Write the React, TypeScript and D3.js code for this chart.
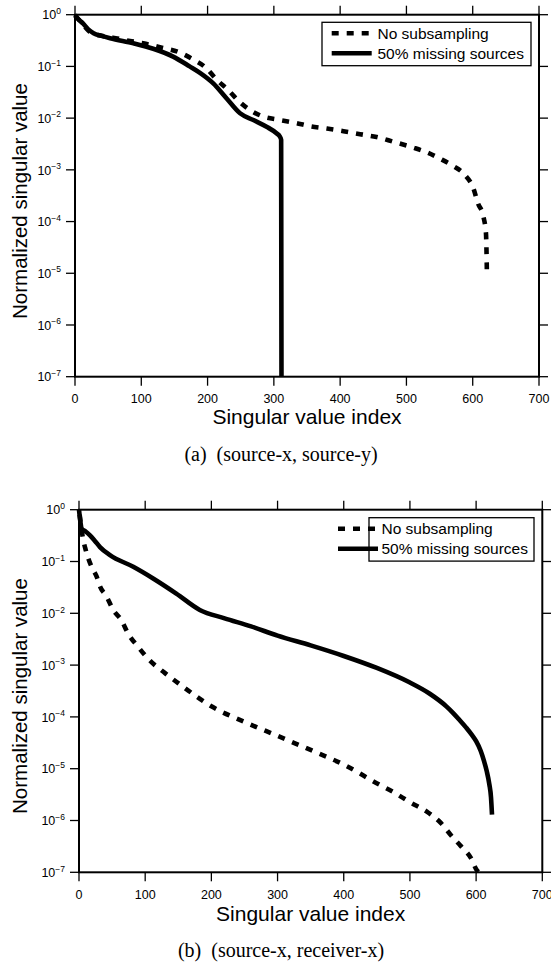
import React from 'react';
import * as d3 from 'd3';

const xTicks = [0, 100, 200, 300, 400, 500, 600, 700];
const yExps = [0, -1, -2, -3, -4, -5, -6, -7];
const seriesNames = ['No subsampling', '50% missing sources'];
const xAxisLabel = 'Singular value index';
const yAxisLabel = 'Normalized singular value';
const captions = ['(a)  (source-x, source-y)', '(b)  (source-x, receiver-x)'];

// Panel (a): source-x, source-y
const aNoSubIdx = [0, 8, 15, 22, 30, 40, 57, 83, 103, 131, 156, 178, 196, 214, 231, 246, 264, 284, 309, 332, 354, 380, 405, 430, 455, 480, 510, 530, 550, 570, 588, 601, 608, 616, 620, 621.5];
const aNoSubVal = [0.95, 0.75, 0.58, 0.47, 0.42, 0.39, 0.36, 0.31, 0.28, 0.23, 0.19, 0.137, 0.098, 0.055, 0.035, 0.022, 0.0144, 0.0107, 0.0092, 0.0081, 0.007, 0.0063, 0.0056, 0.0049, 0.0043, 0.0035, 0.0027, 0.0022, 0.00166, 0.0012, 0.0008, 0.00044, 0.000224, 0.000126, 0.000059, 0.0000085];
const aMissIdx = [0, 5, 12, 20, 28, 40, 53, 88, 118, 148, 173, 188.5, 208.6, 228.8, 249, 269, 289, 304, 309, 311, 311.5];
const aMissVal = [1.0, 0.82, 0.68, 0.52, 0.44, 0.39, 0.35, 0.28, 0.22, 0.155, 0.1, 0.075, 0.047, 0.024, 0.0124, 0.0092, 0.0068, 0.0051, 0.0044, 0.0038, 1e-7];

// Panel (b): source-x, receiver-x
const bNoSubIdx = [1, 4, 6.5, 10, 14, 19, 26.7, 31.7, 41.8, 51.7, 64, 74, 90, 105, 130, 160, 200, 250, 300, 350, 400, 454, 474, 499, 529, 547, 562, 577, 592, 601, 604];
const bNoSubVal = [0.8, 0.4, 0.26, 0.17, 0.115, 0.079, 0.051, 0.033, 0.021, 0.0116, 0.0074, 0.0041, 0.0022, 0.0013, 0.0007, 0.00036, 0.00016, 0.00008, 0.000043, 0.000023, 0.000012, 4.9e-6, 3.6e-6, 2.3e-6, 1.38e-6, 8.9e-7, 5.2e-7, 3.2e-7, 1.9e-7, 1.1e-7, 1e-7];
const bMissIdx = [0, 2, 4, 10, 16.6, 24, 31.7, 46.8, 82, 112, 147, 182.5, 220, 260, 300, 350, 400, 450, 500, 530, 555, 565, 575, 585, 593, 600, 607, 612, 616, 620, 622.5, 624];
const bMissVal = [1.0, 0.6, 0.43, 0.38, 0.32, 0.25, 0.19, 0.133, 0.079, 0.047, 0.024, 0.0116, 0.008, 0.0056, 0.0037, 0.0024, 0.0015, 0.00088, 0.00046, 0.00028, 0.00016, 0.00012, 0.000087, 0.000062, 0.000046, 0.000034, 0.000022, 0.000014, 9e-6, 5e-6, 2.8e-6, 1.3e-6];

const SANS = '"Liberation Sans", Arial, Helvetica, sans-serif';
const SERIF = '"Liberation Serif", "Times New Roman", Times, serif';

type Layout = {
  L: number; R: number; T: number; B: number;
  legX: number; legY: number; legW: number; legH: number;
  lineX1: number; lineX2: number; textX: number;
  yLabelCY: number; xLabelY: number; capY: number;
};

function zip(a: number[], b: number[]): [number, number][] {
  return a.map((v, i) => [v, b[i]]);
}

function Panel({ lay, dashed, solid, caption }: { lay: Layout; dashed: [number, number][]; solid: [number, number][]; caption: string }) {
  const x = d3.scaleLinear().domain([0, 700]).range([lay.L, lay.R]);
  const y = d3.scaleLog().domain([1e-7, 1]).range([lay.B, lay.T]);
  const line = d3.line<[number, number]>().x(d => x(d[0])).y(d => y(d[1])).curve(d3.curveMonotoneX);
  const tl = 9;
  const row1 = lay.legY + 11;
  const row2 = lay.legY + 31;
  return (
    <g>
      <path d={line(dashed) || ''} fill="none" stroke="#000" strokeWidth={4.6} strokeDasharray="7,8" />
      <path d={line(solid) || ''} fill="none" stroke="#000" strokeWidth={4.6} strokeLinejoin="round" />
      <rect x={lay.L} y={lay.T} width={lay.R - lay.L} height={lay.B - lay.T} fill="none" stroke="#000" strokeWidth={2} />
      {xTicks.map(t => (
        <g key={'x' + t}>
          <line x1={x(t)} x2={x(t)} y1={lay.T} y2={lay.T - tl} stroke="#000" strokeWidth={1.3} />
          <line x1={x(t)} x2={x(t)} y1={lay.B} y2={lay.B + tl} stroke="#000" strokeWidth={1.3} />
          <text x={x(t)} y={lay.B + 26.3} textAnchor="middle" fontFamily={SANS} fontSize={12.5}>{t}</text>
        </g>
      ))}
      {yExps.map(e => {
        const yy = y(Math.pow(10, e));
        return (
          <g key={'y' + e}>
            <line x1={lay.L - tl} x2={lay.L} y1={yy} y2={yy} stroke="#000" strokeWidth={1.3} />
            <line x1={lay.R} x2={lay.R + tl} y1={yy} y2={yy} stroke="#000" strokeWidth={1.3} />
            <text x={lay.L - 14} y={yy + 4.7} textAnchor="end" fontFamily={SANS} fontSize={12.5}>
              10<tspan dy={-5.5} fontSize={8.5}>{e === 0 ? '0' : '\u2212' + Math.abs(e)}</tspan>
            </text>
          </g>
        );
      })}
      <rect x={lay.legX} y={lay.legY} width={lay.legW} height={lay.legH} fill="#fff" stroke="#000" strokeWidth={1.3} />
      <line x1={lay.lineX1} x2={lay.lineX2} y1={row1} y2={row1} stroke="#000" strokeWidth={4.6} strokeDasharray="7,8" />
      <line x1={lay.lineX1} x2={lay.lineX2} y1={row2} y2={row2} stroke="#000" strokeWidth={4.6} />
      <text x={lay.textX} y={row1 + 5.3} fontFamily={SANS} fontSize={15.5}>{seriesNames[0]}</text>
      <text x={lay.textX} y={row2 + 5.3} fontFamily={SANS} fontSize={15.5}>{seriesNames[1]}</text>
      <text transform={`translate(27,${lay.yLabelCY}) rotate(-90)`} textAnchor="middle" fontFamily={SANS} fontSize={20.5}>{yAxisLabel}</text>
      <text x={(lay.L + lay.R) / 2} y={lay.xLabelY} textAnchor="middle" fontFamily={SANS} fontSize={21}>{xAxisLabel}</text>
      <text x={281} y={lay.capY} textAnchor="middle" fontFamily={SERIF} fontSize={20} style={{ whiteSpace: 'pre' }}>{caption}</text>
    </g>
  );
}

const layA: Layout = {
  L: 75, R: 539, T: 14.7, B: 376.7,
  legX: 322, legY: 22.3, legW: 209, legH: 43.4,
  lineX1: 331.7, lineX2: 371.7, textX: 377.5,
  yLabelCY: 201, xLabelY: 423.5, capY: 460.5,
};
const layB: Layout = {
  L: 79, R: 542.3, T: 509.7, B: 872.3,
  legX: 369, legY: 517.7, legW: 165, legH: 43.4,
  lineX1: 338, lineX2: 378, textX: 381.5,
  yLabelCY: 696, xLabelY: 921, capY: 956.8,
};

export default function App() {
  return (
    <svg width={551} height={962} style={{ position: 'absolute', left: 0, top: 0, background: '#fff' }}>
      <rect x={0} y={0} width={551} height={962} fill="#fff" />
      <Panel lay={layA} dashed={zip(aNoSubIdx, aNoSubVal)} solid={zip(aMissIdx, aMissVal)} caption={captions[0]} />
      <Panel lay={layB} dashed={zip(bNoSubIdx, bNoSubVal)} solid={zip(bMissIdx, bMissVal)} caption={captions[1]} />
    </svg>
  );
}
